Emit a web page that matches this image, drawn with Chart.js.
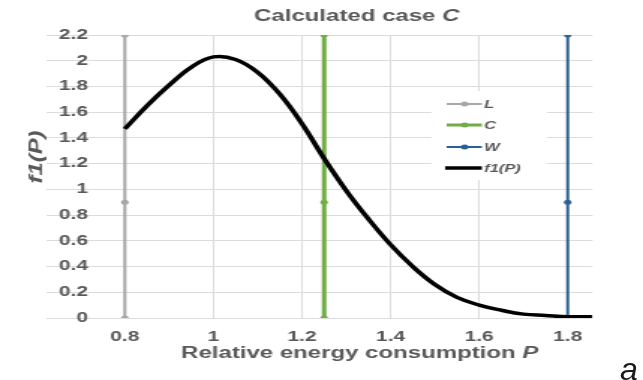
<!DOCTYPE html>
<html>
<head>
<meta charset="utf-8">
<script src="https://cdn.jsdelivr.net/npm/chart.js@4.4.1/dist/chart.umd.min.js"></script>
<style>
  html, body { margin: 0; padding: 0; background: #fff; overflow: hidden; }
  body { width: 643px; height: 380px; position: relative; }
  /* the source figure is stretched sideways, so the chart is drawn narrow and widened */
  #wrap { position: absolute; left: 0; top: 0; width: 429px; height: 380px;
          transform: scaleX(1.4988); transform-origin: 0 0; }
  #panel { position: absolute; left: 620px; top: 353px; font: italic 32px "Liberation Sans", Arial, sans-serif;
           line-height: 32px; color: #1a1a1a; }
</style>
</head>
<body>
<div id="wrap"><canvas id="chart" width="429" height="380"></canvas></div>
<div id="panel">a</div>
<script>
// curve f1(P)
const pValues = [0.80, 0.85, 0.90, 0.95, 1.00, 1.05, 1.10, 1.15, 1.20, 1.25, 1.30,
                 1.35, 1.40, 1.45, 1.50, 1.55, 1.60, 1.65, 1.70, 1.75, 1.80, 1.856];
const f1Values = [1.47, 1.65, 1.81, 1.95, 2.03, 2.01, 1.91, 1.74, 1.51, 1.24, 0.99,
                  0.77, 0.57, 0.40, 0.26, 0.16, 0.10, 0.06, 0.03, 0.02, 0.01, 0.01];

// vertical marker lines L, C, W
const lineNames = ['L', 'C', 'W'];
const linePositions = [0.8, 1.25, 1.8];
const markerLevels = [0, 0.9, 2.2];
const lineColors = ['#a6a6a6', '#70ad47', '#2b5f97'];
const lineWidths = [2, 3, 2];

const xTicks = [0.8, 1, 1.2, 1.4, 1.6, 1.8];
const xMin = 0.624, xMax = 1.856;
const yMax = 2.2, yStep = 0.2;

const GRAY = '#595959';
const FONT = '"Liberation Sans", Arial, sans-serif';

function drawRuns(ctx, runs, cx, cy) {
    let total = 0;
    runs.forEach(r => { ctx.font = r.font; r.w = ctx.measureText(r.text).width; total += r.w; });
    let x = cx - total / 2;
    ctx.textAlign = 'left';
    ctx.textBaseline = 'middle';
    runs.forEach(r => { ctx.font = r.font; ctx.fillText(r.text, x, cy); x += r.w; });
}

const figureText = {
    id: 'figureText',
    beforeDraw(chart) {
        const ctx = chart.ctx;
        ctx.save();
        ctx.fillStyle = '#fff';
        ctx.fillRect(0, 0, chart.width, chart.height);
        ctx.restore();
    },
    afterDatasetsDraw(chart) {
        const ctx = chart.ctx;
        ctx.save();
        // legend box sits over the gridlines
        ctx.fillStyle = '#fff';
        ctx.fillRect(288, 91, 77, 89);

        const rows = [104, 125, 147, 168];
        const entries = lineNames.map((n, i) => ({ label: n, color: lineColors[i], width: lineWidths[i], dot: true }));
        entries.push({ label: 'f1(P)', color: '#000', width: 3.5, dot: false });
        entries.forEach((e, i) => {
            const y = rows[i];
            ctx.strokeStyle = e.color;
            ctx.lineWidth = e.width;
            ctx.beginPath();
            ctx.moveTo(e.dot ? 298 : 297, y);
            ctx.lineTo(321.5, y);
            ctx.stroke();
            if (e.dot) {
                ctx.fillStyle = e.color;
                ctx.beginPath();
                ctx.arc(310, y, 2.5, 0, Math.PI * 2);
                ctx.fill();
            }
            ctx.fillStyle = GRAY;
            ctx.font = 'italic bold 11px ' + FONT;
            ctx.textAlign = 'left';
            ctx.textBaseline = 'middle';
            ctx.fillText(e.label, 323, y + 0.5);
        });
        ctx.restore();
    },
    afterDraw(chart) {
        const ctx = chart.ctx;
        ctx.save();
        ctx.fillStyle = GRAY;
        drawRuns(ctx, [
            { text: 'Calculated case ', font: 'bold 16px ' + FONT },
            { text: 'C', font: 'italic bold 16px ' + FONT }
        ], 238, 17);
        drawRuns(ctx, [
            { text: 'Relative energy consumption ', font: 'bold 16px ' + FONT },
            { text: 'P', font: 'italic bold 16px ' + FONT }
        ], 240, 354);

        // y title, tall and narrow as in the source
        ctx.font = 'italic bold 13px ' + FONT;
        const w = ctx.measureText('f1(P)').width;
        ctx.translate(24, 157);
        ctx.rotate(-Math.PI / 2);
        ctx.scale(53 / w, 1);
        ctx.textAlign = 'center';
        ctx.textBaseline = 'middle';
        ctx.fillText('f1(P)', 0, 0);
        ctx.restore();
    }
};

const datasets = [{
    label: 'f1(P)',
    data: pValues.map((p, i) => ({ x: p, y: f1Values[i] })),
    borderColor: '#000',
    borderWidth: 3.5,
    pointRadius: 0,
    showLine: true,
    tension: 0.4,
    order: 0
}];
lineNames.forEach((n, i) => {
    datasets.push({
        label: n,
        data: markerLevels.map(v => ({ x: linePositions[i], y: v })),
        borderColor: lineColors[i],
        backgroundColor: lineColors[i],
        borderWidth: lineWidths[i],
        pointRadius: 2.5,
        pointBorderWidth: 0,
        pointBackgroundColor: lineColors[i],
        showLine: true,
        order: i + 1
    });
});

const fmt = v => String(Math.round(v * 10) / 10);

new Chart(document.getElementById('chart').getContext('2d'), {
    type: 'scatter',
    data: { datasets },
    plugins: [figureText],
    options: {
        responsive: false,
        animation: false,
        layout: { padding: { left: 0, right: 33.7, top: 35, bottom: 0 } },
        plugins: {
            legend: { display: false },
            tooltip: { enabled: false },
            title: { display: false }
        },
        scales: {
            x: {
                type: 'linear',
                min: xMin,
                max: xMax,
                afterBuildTicks(scale) {
                    scale.ticks = xTicks.map(v => ({ value: v }));
                },
                afterFit(scale) { scale.height = 62; },
                border: { display: false },
                grid: { color: '#dcdcdc', lineWidth: 1, drawTicks: false },
                ticks: {
                    padding: 11,
                    color: GRAY,
                    font: { family: FONT, size: 14, weight: 'bold' },
                    callback: fmt
                }
            },
            y: {
                min: 0,
                max: yMax,
                afterFit(scale) { scale.width = 31.3; },
                border: { display: false },
                grid: { color: '#dcdcdc', lineWidth: 1, drawTicks: false },
                ticks: {
                    stepSize: yStep,
                    mirror: true,
                    crossAlign: 'far',
                    padding: 8,
                    color: GRAY,
                    font: { family: FONT, size: 14, weight: 'bold' },
                    callback: fmt
                }
            }
        }
    }
});
</script>
</body>
</html>
